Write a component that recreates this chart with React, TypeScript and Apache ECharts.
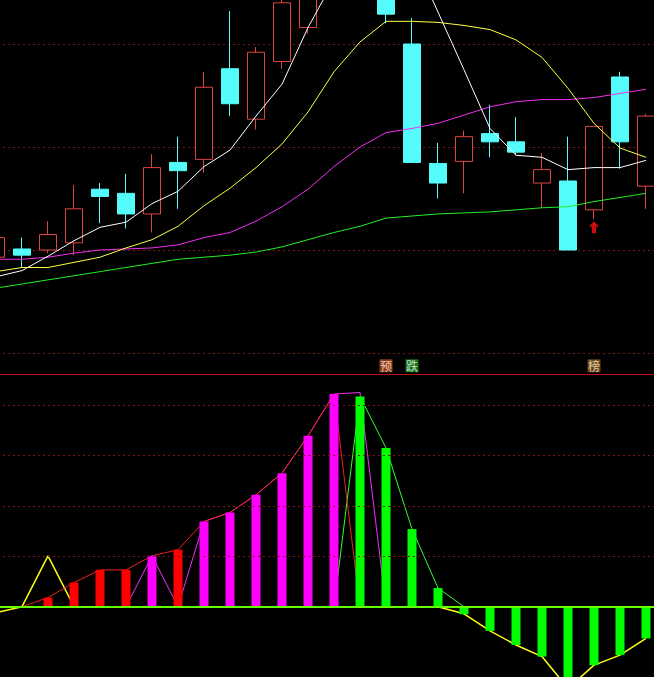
import React, { useEffect, useRef } from 'react';
import * as echarts from 'echarts';

// trading days (26 visible sessions, first one partly cut off)
const days = ['01','02','03','04','05','06','07','08','09','10','11','12','13','14','15','16','17','18','19','20','21','22','23','24','25','26'];

// [open, close, low, high]
const candles = [
  [10.93, 11.12, 10.88, 11.17],
  [11.01, 10.95, 10.83, 11.12],
  [11.00, 11.15, 10.97, 11.28],
  [11.07, 11.40, 10.95, 11.63],
  [11.59, 11.52, 11.26, 11.65],
  [11.55, 11.35, 11.21, 11.74],
  [11.35, 11.80, 11.17, 11.93],
  [11.85, 11.77, 11.40, 12.10],
  [11.88, 12.58, 11.75, 12.73],
  [12.76, 12.42, 12.30, 13.32],
  [12.27, 12.92, 12.17, 12.97],
  [12.83, 13.40, 12.76, 13.46],
  [13.16, 14.46, 13.10, 14.54],
  [14.40, 14.88, 14.35, 15.00],
  [14.95, 14.82, 14.71, 15.10],
  [14.64, 13.29, 13.20, 14.74],
  [13.00, 11.85, 11.85, 13.25],
  [11.84, 11.65, 11.50, 12.04],
  [11.86, 12.10, 11.55, 12.16],
  [12.13, 12.05, 11.90, 12.41],
  [12.05, 11.95, 11.92, 12.29],
  [11.65, 11.78, 11.41, 11.94],
  [11.67, 11.00, 11.00, 12.10],
  [11.39, 12.20, 11.30, 12.20],
  [12.68, 12.05, 11.79, 12.73],
  [11.62, 12.30, 11.40, 12.32],
];

const ma5 = [10.74, 10.80, 10.94, 11.09, 11.22, 11.27, 11.45, 11.57, 11.81, 11.97, 12.30, 12.61, 13.16, 13.62, 14.11, 14.18, 13.87, 13.31, 12.75, 12.18, 11.92, 11.90, 11.78, 11.80, 11.80, 11.87];
const ma10 = [10.79, 10.83, 10.83, 10.88, 10.93, 11.02, 11.10, 11.23, 11.43, 11.60, 11.80, 12.03, 12.34, 12.73, 13.02, 13.22, 13.22, 13.21, 13.18, 13.14, 13.04, 12.87, 12.57, 12.23, 11.99, 11.90];
const ma20 = [10.91, 10.91, 10.93, 10.97, 11.00, 11.01, 11.02, 11.05, 11.12, 11.17, 11.28, 11.42, 11.59, 11.81, 12.00, 12.14, 12.18, 12.23, 12.31, 12.39, 12.44, 12.46, 12.46, 12.48, 12.52, 12.56];
const ma60 = [10.63, 10.67, 10.71, 10.75, 10.79, 10.83, 10.87, 10.91, 10.93, 10.95, 10.98, 11.03, 11.10, 11.17, 11.23, 11.31, 11.33, 11.35, 11.36, 11.37, 11.39, 11.41, 11.42, 11.47, 11.51, 11.55];

// indicator panel
const redBar = [null, null, 0.18, 0.48, 0.73, 0.73, null, 1.13, null, null, null, null, null, null, null, null, null, null, null, null, null, null, null, null, null, null];
const magentaBar = [null, null, null, null, null, null, 1.01, null, 1.69, 1.87, 2.22, 2.65, 3.39, 4.22, null, null, null, null, null, null, null, null, null, null, null, null];
const greenBar = [null, null, null, null, null, null, null, null, null, null, null, null, null, null, 4.17, 3.15, 1.54, 0.37, -0.15, -0.48, -0.76, -0.99, -1.62, -1.16, -0.96, -0.63];

const redLine = [null, 0, 0.18, 0.48, 0.73, 0.73, 1.01, 1.13, 1.69, 1.87, 2.22, 2.65, 3.39, 4.22, 0, 0, 0, 0, 0, null, null, null, null, null, null, null];
const magentaLine = [null, null, null, null, null, 0, 1.01, 0, 1.69, 1.87, 2.22, 2.65, 3.39, 4.22, 4.25, 0, null, null, null, null, null, null, null, null, null, null];
const greenLine = [null, null, null, null, null, null, null, null, null, null, null, null, null, 0, 4.17, 3.15, 1.54, 0.37, 0, null, null, null, null, null, null, null];
const yellowLine = [-0.12, 0, 1.01, 0, null, null, null, null, null, null, null, null, null, 0, 0, null, null, 0, -0.14, -0.48, -0.76, -0.99, -1.62, -1.16, -0.96, -0.63];

// signal tags
const signalIdx = [15, 16, 23];
const signalText = ['预', '跌', '榜'];
const signalBg = ['#B04A1C', '#1E8A22', '#84541F'];
const signalFg = ['#FFEFE0', '#F0FFF0', '#FFF0D0'];
const signalLevel = 4.78;

// buy arrow
const arrowIdx = 23;
const arrowPrice = 11.22;

// guide levels
const indicatorGridLevels = [1, 2, 3, 4];
const separatorLevel = 4.62;

export default function App() {
  const ref = useRef<HTMLDivElement>(null);
  useEffect(() => {
    const chart = echarts.init(ref.current!, null, { renderer: 'svg' });
    const dotted = { color: '#7E1616', type: [2, 3] as any, width: 1 };
    chart.setOption({
      animation: false,
      backgroundColor: '#000000',
      grid: [
        { left: -17, width: 676, top: -265, height: 618, outerBoundsMode: 'none', containLabel: false },
        { left: -17, width: 676, top: 354.7, height: 352.8, outerBoundsMode: 'none', containLabel: false },
      ],
      xAxis: [
        { type: 'category', data: days, gridIndex: 0, show: false, boundaryGap: true },
        { type: 'category', data: days, gridIndex: 1, show: false, boundaryGap: true },
      ],
      yAxis: [
        {
          type: 'value', gridIndex: 0, min: 10, max: 16, interval: 1,
          axisLine: { show: false }, axisTick: { show: false }, axisLabel: { show: false },
          splitLine: { show: true, lineStyle: dotted },
        },
        {
          type: 'value', gridIndex: 1, min: -2, max: 5, interval: 1,
          axisLine: { show: false }, axisTick: { show: false }, axisLabel: { show: false },
          splitLine: { show: false },
        },
      ],
      series: [
        {
          type: 'candlestick', xAxisIndex: 0, yAxisIndex: 0, data: candles, barWidth: 18, z: 2,
          itemStyle: { color: '#000000', color0: '#54FCFC', borderColor: '#E04444', borderColor0: '#54FCFC', borderWidth: 1 },
        },
        { type: 'line', xAxisIndex: 0, yAxisIndex: 0, data: ma60, symbol: 'none', z: 3, lineStyle: { color: '#22EE22', width: 1 } },
        { type: 'line', xAxisIndex: 0, yAxisIndex: 0, data: ma20, symbol: 'none', z: 3, lineStyle: { color: '#F030F0', width: 1 } },
        { type: 'line', xAxisIndex: 0, yAxisIndex: 0, data: ma10, symbol: 'none', z: 3, lineStyle: { color: '#FFFF40', width: 1 } },
        { type: 'line', xAxisIndex: 0, yAxisIndex: 0, data: ma5, symbol: 'none', z: 3, lineStyle: { color: '#FFFFFF', width: 1 } },
        {
          type: 'scatter', xAxisIndex: 0, yAxisIndex: 0, z: 4,
          symbol: 'path://M5 0 L10 5 L7 5 L7 11 L3 11 L3 5 L0 5 Z', symbolSize: [10, 12],
          itemStyle: { color: '#FF1010' },
          data: [[arrowIdx, arrowPrice]],
        },
        {
          type: 'line', xAxisIndex: 1, yAxisIndex: 1, data: [], z: 1,
          markLine: {
            silent: true, symbol: ['none', 'none'], label: { show: false },
            data: [
              ...indicatorGridLevels.map((v) => ({ yAxis: v, lineStyle: dotted })),
              { yAxis: separatorLevel, lineStyle: { color: '#C01010', type: 'solid', width: 1 } },
              { yAxis: 0, lineStyle: { color: '#66FF00', type: 'solid', width: 2 } },
            ],
          },
        },
        { type: 'line', xAxisIndex: 1, yAxisIndex: 1, data: yellowLine, symbol: 'none', z: 2, lineStyle: { color: '#FFFF10', width: 1.5 } },
        { type: 'line', xAxisIndex: 1, yAxisIndex: 1, data: greenLine, symbol: 'none', z: 2, lineStyle: { color: '#30FF30', width: 1 } },
        { type: 'line', xAxisIndex: 1, yAxisIndex: 1, data: magentaLine, symbol: 'none', z: 2, lineStyle: { color: '#F030F0', width: 1 } },
        { type: 'line', xAxisIndex: 1, yAxisIndex: 1, data: redLine, symbol: 'none', z: 2, lineStyle: { color: '#F02020', width: 1 } },
        { type: 'bar', xAxisIndex: 1, yAxisIndex: 1, data: redBar, barWidth: 9, barGap: '-100%', z: 3, itemStyle: { color: '#FF0000' } },
        { type: 'bar', xAxisIndex: 1, yAxisIndex: 1, data: magentaBar, barWidth: 9, barGap: '-100%', z: 3, itemStyle: { color: '#FF00FF' } },
        { type: 'bar', xAxisIndex: 1, yAxisIndex: 1, data: greenBar, barWidth: 9, barGap: '-100%', z: 3, itemStyle: { color: '#00FF00' } },
        {
          type: 'scatter', xAxisIndex: 1, yAxisIndex: 1, z: 5,
          symbol: 'rect', symbolSize: [13, 13],
          data: signalIdx.map((k, j) => ({
            value: [k, signalLevel],
            itemStyle: { color: signalBg[j] },
            label: {
              show: true, position: 'inside', formatter: signalText[j], color: signalFg[j],
              fontSize: 12, fontFamily: 'Noto Sans CJK SC',
            },
          })),
        },
      ],
    });
    return () => chart.dispose();
  }, []);
  return (
    <div
      ref={ref}
      style={{ position: 'fixed', left: 0, top: 0, width: 654, height: 677, background: '#000' }}
    />
  );
}
